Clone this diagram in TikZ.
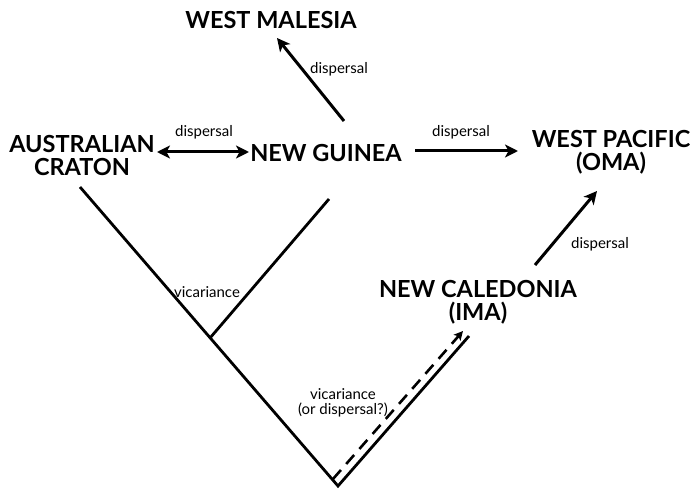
\documentclass[tikz,border=0pt]{standalone}
\usepackage{fontspec}
\setmainfont{Lato}
\usetikzlibrary{arrows.meta}
\begin{document}
\begin{tikzpicture}[x=1pt,y=-1pt,
  place/.style={font=\fontsize{23.5}{23}\selectfont\bfseries, align=center, inner sep=0pt},
  small/.style={font=\fontsize{15}{15}\selectfont, align=center, inner sep=0pt},
  branch/.style={line width=2.8pt},
  disp/.style={line width=3pt, -{Stealth[length=13pt,width=13pt,inset=3.5pt]}},
  ddisp/.style={line width=3pt, {Stealth[length=13pt,width=13pt,inset=3.5pt]}-{Stealth[length=13pt,width=13pt,inset=3.5pt]}}]
\useasboundingbox (0,0) rectangle (693,489);
% places
\node[place] (wm) at (271,20) {WEST MALESIA};
\node[place] (ac) at (82,156) {AUSTRALIAN\\CRATON};
\node[place] (ng) at (326,153) {NEW GUINEA};
\node[place] (wp) at (611,152) {WEST PACIFIC\\(OMA)};
\node[place] (nc) at (478,302) {NEW CALEDONIA\\(IMA)};
% tree points
\coordinate (root) at (338,486);
\coordinate (actop) at (80,187);
\coordinate (junc) at (210,338);
\coordinate (ngtop) at (329,199);
\coordinate (nctop) at (469,336);
\coordinate (dstart) at (333,479);
\coordinate (dend) at (463,331);
% arrow ends
\coordinate (wmfrom) at (344,121);
\coordinate (wmto) at (277,38);
\coordinate (acarr) at (157,152);
\coordinate (ngarrl) at (249,152);
\coordinate (ngarrr) at (415,151);
\coordinate (wparr) at (518,151);
\coordinate (ncfrom) at (535,265);
\coordinate (wpfrom) at (597,191);
% tree
\draw[branch] (actop) -- (root) -- (nctop);
\draw[branch] (junc) -- (ngtop);
\draw[line width=2.6pt, dash pattern=on 12pt off 8pt, -{Stealth[length=9pt,width=9pt,inset=2pt]}] (dstart) -- (dend);
% dispersal arrows
\draw[disp] (wmfrom) -- (wmto);
\draw[ddisp] (acarr) -- (ngarrl);
\draw[disp] (ngarrr) -- (wparr);
\draw[disp] (ncfrom) -- (wpfrom);
% labels
\node[small] (l1) at (339,69) {dispersal};
\node[small] (l2) at (204,132) {dispersal};
\node[small] (l3) at (461,132) {dispersal};
\node[small] (l4) at (600,244) {dispersal};
\node[small] (l5) at (207,292) {vicariance};
\node[small] (l6) at (343,403) {vicariance\\(or dispersal?)};
\end{tikzpicture}
\end{document}
